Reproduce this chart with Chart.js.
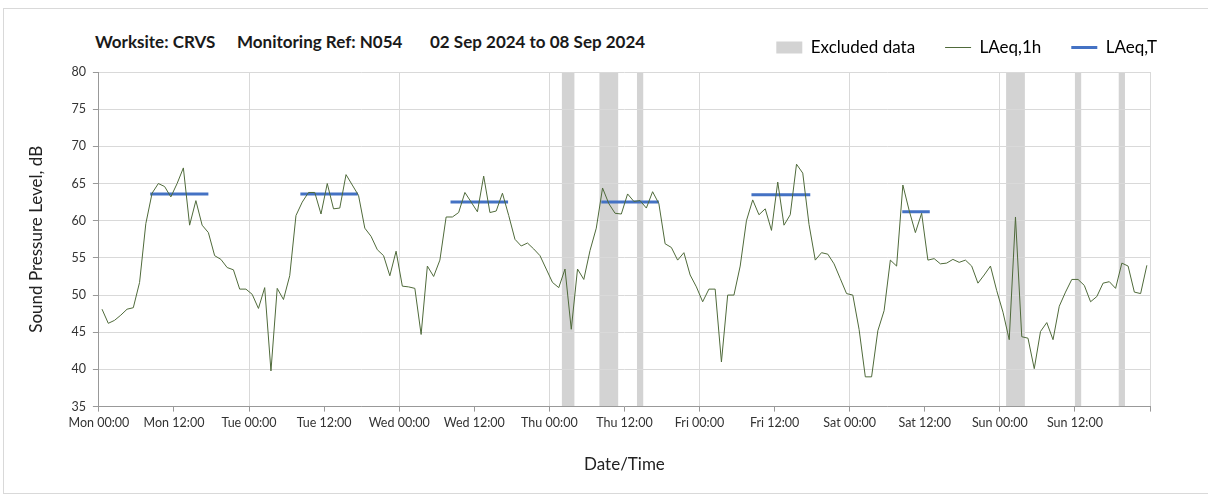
<!DOCTYPE html>
<html>
<head>
<meta charset="utf-8">
<script src="https://cdn.jsdelivr.net/npm/chart.js@4.4.1/dist/chart.umd.min.js"></script>
<style>
  html, body { margin: 0; padding: 0; background: #fff; }
  #wrap { position: relative; width: 1208px; height: 495px; overflow: hidden; }
  #frame { position: absolute; left: 3px; top: 8px; width: 1230px; height: 484px; border: 1px solid #d9d9d9; }
  .ttl { position: absolute; top: 31px; font: bold 17px Lato, sans-serif; color: #1a1a1a; white-space: pre; }
  canvas { position: absolute; left: 0; top: 0; }
</style>
</head>
<body>
<div id="wrap">
  <div id="frame"></div>
  <span class="ttl" style="left:95px">Worksite: CRVS</span>
  <span class="ttl" style="left:237px">Monitoring Ref: N054</span>
  <span class="ttl" style="left:430px">02 Sep 2024 to 08 Sep 2024</span>
  <canvas id="chart" width="1208" height="495"></canvas>
</div>
<script>
// tick labels every 12 hours, Mon 00:00 .. Sun 12:00
const tickLabels = [
  "Mon 00:00", "Mon 12:00", "Tue 00:00", "Tue 12:00", "Wed 00:00", "Wed 12:00",
  "Thu 00:00", "Thu 12:00", "Fri 00:00", "Fri 12:00", "Sat 00:00", "Sat 12:00",
  "Sun 00:00", "Sun 12:00"
];

// hourly LAeq,1h values (dB), one per hour from Mon 00:00
const laeq1h = [
  // Mon
  48.1, 46.2, 46.6, 47.3, 48.1, 48.3, 51.7, 59.6, 63.7, 65.0, 64.6, 63.2,
  65.0, 67.1, 59.4, 62.7, 59.4, 58.4, 55.3, 54.8, 53.7, 53.4, 50.8, 50.8,
  // Tue
  50.1, 48.2, 51.0, 39.8, 50.9, 49.4, 52.6, 60.7, 62.5, 63.8, 63.8, 60.9,
  65.0, 61.6, 61.7, 66.2, 64.8, 63.4, 59.0, 57.9, 56.1, 55.3, 52.6, 55.9,
  // Wed
  51.2, 51.1, 50.9, 44.7, 53.9, 52.5, 54.7, 60.5, 60.5, 61.1, 63.8, 62.5,
  61.2, 66.0, 61.1, 61.3, 63.7, 60.7, 57.5, 56.6, 57.0, 56.2, 55.3, 53.5,
  // Thu
  51.7, 51.0, 53.5, 45.4, 53.5, 52.1, 56.0, 59.0, 64.4, 62.3, 61.0, 60.9,
  63.6, 62.6, 62.7, 61.7, 63.9, 62.3, 56.9, 56.4, 54.7, 55.7, 52.7, 51.1,
  // Fri
  49.1, 50.8, 50.8, 41.0, 50.0, 50.0, 53.9, 60.0, 62.8, 60.8, 61.6, 58.7,
  65.2, 59.4, 60.8, 67.6, 66.4, 59.5, 54.7, 55.7, 55.5, 54.2, 52.2, 50.2,
  // Sat
  50.0, 45.4, 39.0, 39.0, 45.2, 47.9, 54.7, 53.9, 64.8, 61.4, 58.4, 61.0,
  54.7, 54.9, 54.2, 54.3, 54.8, 54.4, 54.7, 53.9, 51.6, 52.7, 53.9, 50.6,
  // Sun
  47.7, 44.0, 60.5, 44.4, 44.2, 40.1, 45.1, 46.3, 44.0, 48.5, 50.4, 52.1,
  52.1, 51.3, 49.1, 49.8, 51.6, 51.8, 50.9, 54.3, 53.9, 50.4, 50.2, 54.0
];

// LAeq,T periods: [from hour, to hour, level dB]
const laeqTStart = [8.2, 32.2, 56.2, 80.3, 104.3, 128.4];
const laeqTEnd   = [17.5, 41.4, 65.4, 89.5, 113.7, 132.8];
const laeqTLevel = [63.6, 63.6, 62.5, 62.5, 63.5, 61.2];

// excluded data periods, hours from Mon 00:00
const excludedStart = [74, 80, 86, 145, 156, 163];
const excludedEnd   = [76, 83, 87, 148, 157, 164];

const green = "#4f6a3a";
const blue = "#4472c4";
const grey = "#d3d3d3";

const hourlyPoints = laeq1h.map((v, i) => ({ x: i + 0.5, y: v })); // plotted mid-hour
const periodPoints = [];
laeqTLevel.forEach((v, i) => {
  periodPoints.push({ x: laeqTStart[i], y: v }, { x: laeqTEnd[i], y: v }, { x: laeqTEnd[i], y: null });
});

const excludedBands = {
  id: "excludedBands",
  beforeDraw(chart) {
    const { ctx, chartArea, scales } = chart;
    ctx.save();
    ctx.fillStyle = grey;
    excludedStart.forEach((s, i) => {
      const x0 = scales.x.getPixelForValue(s);
      const x1 = scales.x.getPixelForValue(excludedEnd[i]);
      ctx.fillRect(x0, chartArea.top, x1 - x0, chartArea.bottom - chartArea.top);
    });
    ctx.restore();
  }
};

// a bit more room under the legend, and push it to the right edge
const legendTweak = {
  id: "legendTweak",
  beforeInit(chart) {
    const fit = chart.legend.fit;
    chart.legend.fit = function () {
      fit.bind(chart.legend)();
      this.height += 6;
    };
  },
  afterLayout(chart) {
    chart.legend.right += 37;
  }
};

Chart.defaults.font.family = "Lato, 'Open Sans', sans-serif";
Chart.defaults.color = "#333";

new Chart(document.getElementById("chart"), {
  type: "line",
  data: {
    datasets: [
      {
        label: "LAeq,1h",
        data: hourlyPoints,
        borderColor: green,
        borderWidth: 1,
        pointRadius: 0,
        tension: 0
      },
      {
        label: "LAeq,T",
        data: periodPoints,
        borderColor: blue,
        borderWidth: 3,
        pointRadius: 0,
        spanGaps: false
      }
    ]
  },
  options: {
    responsive: false,
    animation: false,
    layout: { padding: { top: 9, right: 58, left: 22, bottom: 16 } },
    plugins: {
      tooltip: { enabled: false },
      legend: {
        position: "top",
        align: "end",
        labels: {
          usePointStyle: true,
          pointStyleWidth: 26,
          boxHeight: 12,
          padding: 30,
          font: { size: 17 },
          color: "#222",
          generateLabels: () => [
            { text: "Excluded data", fillStyle: grey, strokeStyle: grey, lineWidth: 0, pointStyle: "rect" },
            { text: "LAeq,1h", fillStyle: green, strokeStyle: green, lineWidth: 1, pointStyle: "line" },
            { text: "LAeq,T", fillStyle: blue, strokeStyle: blue, lineWidth: 3, pointStyle: "line" }
          ]
        }
      }
    },
    scales: {
      x: {
        type: "linear",
        min: 0,
        max: 168,
        border: { color: "#999" },
        grid: {
          color: (c) => (c.tick && c.tick.value % 24 === 0 ? "#d9d9d9" : "rgba(0,0,0,0)"),
          tickColor: "#999",
          tickLength: 5
        },
        ticks: {
          stepSize: 12,
          autoSkip: false,
          maxRotation: 0,
          padding: 4,
          font: { size: 12.5 },
          callback: (v) => tickLabels[v / 12] || ""
        },
        title: { display: true, text: "Date/Time", font: { size: 17 }, color: "#222", padding: { top: 20 } }
      },
      y: {
        min: 35,
        max: 80,
        border: { color: "#999" },
        grid: { color: "#d9d9d9", tickColor: "#999", tickLength: 6 },
        ticks: { stepSize: 5, padding: 7, font: { size: 12.5 } },
        title: { display: true, text: "Sound Pressure Level, dB", font: { size: 17 }, color: "#222", padding: { bottom: 18 } }
      }
    }
  },
  plugins: [excludedBands, legendTweak]
});
</script>
</body>
</html>
